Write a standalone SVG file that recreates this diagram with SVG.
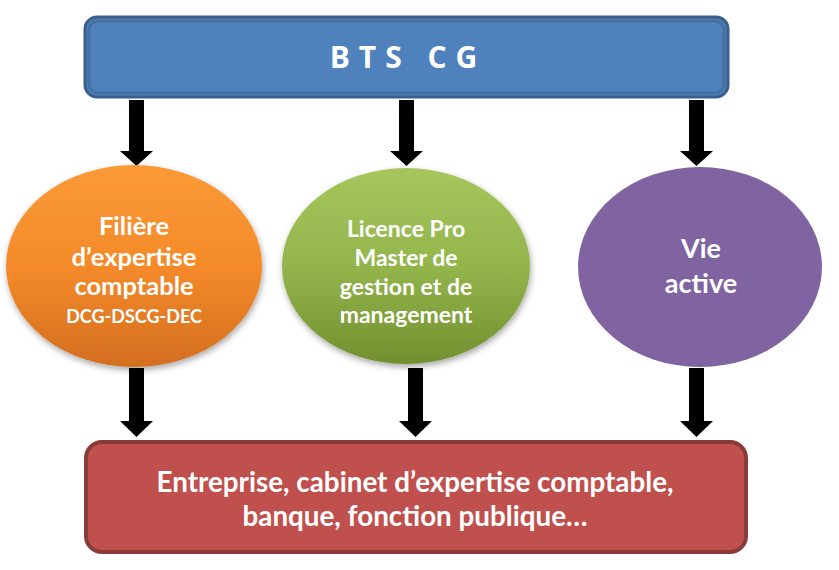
<svg xmlns="http://www.w3.org/2000/svg" width="839" height="570" viewBox="0 0 839 570">
<style>
.t{font-family:Lato,"Open Sans","Liberation Sans",sans-serif;font-weight:bold;fill:#ffffff;text-anchor:middle}
.arr{fill:#000000}
</style>
<defs>
<linearGradient id="gOr" x1="0" y1="0" x2="0" y2="1">
<stop offset="0" stop-color="#fb9a36"/>
<stop offset="0.5" stop-color="#f48a2a"/>
<stop offset="1" stop-color="#d46e1f"/>
</linearGradient>
<linearGradient id="gGr" x1="0" y1="0" x2="0" y2="1">
<stop offset="0" stop-color="#a6c65c"/>
<stop offset="0.5" stop-color="#93b54c"/>
<stop offset="1" stop-color="#72902f"/>
</linearGradient>
<filter id="sh" x="-20%" y="-20%" width="140%" height="140%">
<feDropShadow dx="1" dy="3" stdDeviation="3" flood-color="#000" flood-opacity="0.35"/>
</filter>
</defs>
<g id="connectors">
<polygon class="arr" points="129,100 144,100 144,151 153,151 136.5,166 120,151 129,151"/>
<polygon class="arr" points="399,100 414,100 414,151 423,151 406.5,166 390,151 399,151"/>
<polygon class="arr" points="689,100 704,100 704,151 713,151 696.5,166 680,151 689,151"/>
<polygon class="arr" points="129,368 144,368 144,421 153,421 136.5,437 120,421 129,421"/>
<polygon class="arr" points="408,368 423,368 423,421 432,421 415.5,437 399,421 408,421"/>
<polygon class="arr" points="689,368 704,368 704,421 713,421 696.5,437 680,421 689,421"/>
</g>
<g id="bts">
<rect x="85" y="17" width="643" height="80" rx="12" fill="#4f81bd" stroke="#3a5f8b" stroke-width="3"/>
<rect x="89" y="21" width="635" height="72" rx="9" fill="none" stroke="#44719f" stroke-width="3"/>
<text class="t" x="408" y="68" font-size="30" letter-spacing="9" style="font-family:'Open Sans',Lato,sans-serif">BTS CG</text>
</g>
<g id="filiere">
<ellipse cx="134" cy="266" rx="128" ry="101" fill="url(#gOr)" filter="url(#sh)"/>
<text class="t" font-size="25.5" x="134" y="235">Filière</text>
<text class="t" font-size="25.5" x="134" y="266">d’expertise</text>
<text class="t" font-size="25.5" x="134" y="295">comptable</text>
<text class="t" font-size="18" x="134" y="323">DCG-DSCG-DEC</text>
</g>
<g id="licence">
<ellipse cx="406" cy="266" rx="124" ry="98" fill="url(#gGr)" filter="url(#sh)"/>
<text class="t" font-size="23" x="406" y="237">Licence Pro</text>
<text class="t" font-size="23" x="406" y="266">Master de</text>
<text class="t" font-size="23" x="406" y="295">gestion et de</text>
<text class="t" font-size="23" x="406" y="323">management</text>
</g>
<g id="vie">
<ellipse cx="700" cy="267" rx="122" ry="100" fill="#8064a2"/>
<text class="t" font-size="27" x="701" y="258">Vie</text>
<text class="t" font-size="27" x="701" y="293">active</text>
</g>
<g id="entreprise">
<rect x="86" y="442" width="660" height="110" rx="16" fill="#c0504d" stroke="#8a3b39" stroke-width="4"/>
<text class="t" font-size="27.8" x="415" y="492">Entreprise, cabinet d’expertise comptable,</text>
<text class="t" font-size="27.8" x="415" y="526">banque, fonction publique…</text>
</g>
</svg>
